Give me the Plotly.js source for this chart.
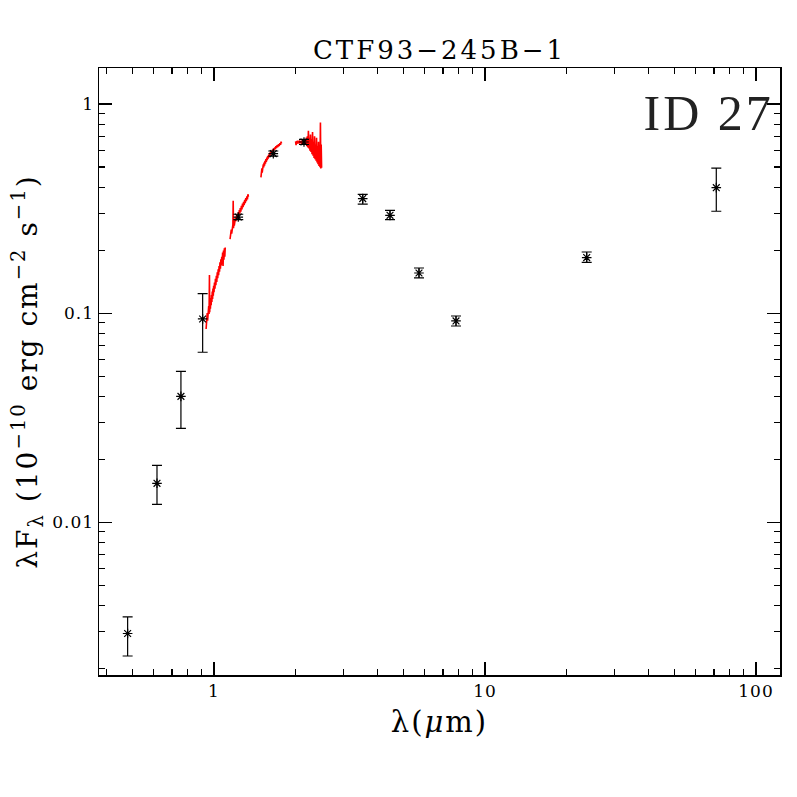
<!DOCTYPE html>
<html>
<head>
<meta charset="utf-8">
<script src="https://cdn.plot.ly/plotly-3.0.1.min.js"></script>
<style>
html,body{margin:0;padding:0;background:#fff;}
#plot{width:797px;height:797px;}
#plot .gtitle{letter-spacing:3px;}
#plot .xtitle{letter-spacing:2px;}
#plot .ytitle{letter-spacing:2px;}
#plot .xtick text,#plot .ytick text{letter-spacing:1px;}
#plot .annotation-text{letter-spacing:3px;}
</style>
</head>
<body>
<div id="plot"></div>
<script>
// Photometry (wavelength in micron, lambda*F_lambda in 1e-10 erg cm^-2 s^-1)
const photWave  = [0.480, 0.616, 0.755, 0.908, 1.229, 1.655, 2.148, 3.538, 4.461, 5.707, 7.816, 23.73, 71.37];
const photFlux  = [0.00294, 0.01536, 0.0400, 0.0938, 0.288, 0.579, 0.658, 0.353, 0.2935, 0.1556, 0.0918, 0.1843, 0.398];
const photUpper = [0.00353, 0.01873, 0.0527, 0.124, 0.297, 0.596, 0.677, 0.370, 0.310, 0.1644, 0.0969, 0.196, 0.494];
const photLower = [0.002295, 0.01219, 0.0281, 0.065, 0.280, 0.563, 0.640, 0.332, 0.280, 0.1473, 0.0868, 0.175, 0.307];

// Near-IR spectrum segments (null separates segments)
const specWave = [
  0.935,0.938,0.941,0.944,0.947,0.950,0.953,0.956,0.959,0.962,0.964,0.967,0.970,0.973,0.976,0.979,0.982,0.985,0.988,0.991,0.994,0.997,1.000,1.004,1.008,1.012,1.016,1.020,1.024,1.028,1.032,1.036,1.040,1.044,1.048,1.052,1.056,1.060,1.064,1.068,1.072,1.076,1.080,1.084,1.088,1.092,1.096,1.100,
  null,
  1.146,1.150,1.154,1.158,1.162,1.166,1.170,1.174,1.177,1.180,1.184,1.188,1.192,1.196,1.200,1.205,1.210,1.215,1.220,1.225,1.230,1.235,1.240,1.245,1.250,1.256,1.262,1.268,1.274,1.280,1.286,1.292,1.298,1.304,1.310,1.316,1.322,1.328,1.334,1.340,
  null,
  1.490,1.494,1.498,1.502,1.506,1.510,1.515,1.520,1.525,1.530,1.536,1.542,1.548,1.554,1.560,1.566,1.572,1.578,1.584,1.590,1.596,1.602,1.608,1.614,1.620,1.628,1.636,1.644,1.652,1.660,1.668,1.676,1.684,1.692,1.700,1.710,1.720,1.730,1.740,1.750,1.760,1.768,1.775,
  null,
  2.000,2.008,2.016,2.024,2.032,2.040,2.050,2.060,2.070,2.080,2.090,2.100,2.110,2.120,2.130,2.140,2.150,2.160,2.170,2.180,2.190,2.200,2.210,2.220,2.230,2.240,2.250,2.260,2.270,2.280,2.290,2.300,2.310,2.320,2.330,2.340,2.350,2.360,2.370,2.380,2.390,2.400,2.410,2.420,2.430,2.440,2.450,2.460,2.470,2.478,2.486,2.495
];
const specFlux = [
  0.084,0.095,0.089,0.100,0.092,0.104,0.096,0.108,0.099,0.152,0.101,0.112,0.105,0.118,0.109,0.122,0.113,0.127,0.117,0.131,0.121,0.135,0.126,0.140,0.131,0.146,0.136,0.151,0.141,0.157,0.147,0.162,0.152,0.168,0.158,0.175,0.163,0.181,0.169,0.186,0.174,0.195,0.168,0.199,0.180,0.204,0.186,0.206,
  null,
  0.226,0.242,0.233,0.251,0.240,0.258,0.247,0.265,0.345,0.255,0.272,0.262,0.279,0.268,0.286,0.275,0.292,0.281,0.298,0.287,0.304,0.293,0.311,0.299,0.318,0.306,0.326,0.313,0.334,0.321,0.341,0.328,0.348,0.336,0.355,0.343,0.362,0.350,0.370,0.360,
  null,
  0.446,0.475,0.458,0.492,0.470,0.505,0.485,0.515,0.497,0.525,0.507,0.535,0.518,0.545,0.528,0.555,0.538,0.563,0.547,0.572,0.556,0.580,0.565,0.588,0.574,0.596,0.583,0.605,0.592,0.613,0.600,0.620,0.608,0.628,0.615,0.635,0.622,0.642,0.630,0.650,0.638,0.660,0.648,
  null,
  0.662,0.636,0.664,0.645,0.668,0.650,0.666,0.647,0.670,0.652,0.664,0.645,0.668,0.650,0.672,0.648,0.666,0.642,0.675,0.640,0.690,0.628,0.700,0.620,0.745,0.612,0.690,0.598,0.715,0.590,0.680,0.575,0.735,0.565,0.660,0.552,0.700,0.545,0.640,0.535,0.690,0.525,0.630,0.515,0.660,0.505,0.600,0.498,0.815,0.492,0.640,0.495
];

const xTickVals = [1, 10, 100];
const xTickText = ['1', '10', '100'];
const yTickVals = [0.01, 0.1, 1];
const yTickText = ['0.01', '0.1', '1'];

const titleText = 'CTF93\u2212245B\u22121';
const idText = 'ID 27';

const serif = 'DejaVu Serif, Liberation Serif, serif';

const traces = [
  {
    x: specWave, y: specFlux, type: 'scatter', mode: 'lines',
    line: {color: '#ff0000', width: 1.6}, connectgaps: false, hoverinfo: 'skip'
  },
  {
    x: photWave, y: photFlux, type: 'scatter', mode: 'markers',
    marker: {symbol: 'asterisk-open', size: 8, color: 'black', line: {color: 'black', width: 1.2}},
    error_y: {
      type: 'data', symmetric: false,
      array: photUpper.map((u, i) => u - photFlux[i]),
      arrayminus: photLower.map((l, i) => photFlux[i] - l),
      color: 'black', thickness: 1.2, width: 5
    }
  }
];

const axisCommon = {
  type: 'log', showgrid: false, zeroline: false,
  showline: true, linecolor: 'black', linewidth: 1.5, mirror: 'allticks',
  ticks: 'inside', ticklen: 13, tickwidth: 1.2, tickcolor: 'black',
  tickmode: 'array',
  tickfont: {family: serif, size: 17, color: 'black'},
  minor: {ticks: 'inside', ticklen: 6, tickwidth: 1.2, tickcolor: 'black', dtick: 'D1', showgrid: false}
};

const layout = {
  width: 797, height: 797,
  paper_bgcolor: 'white', plot_bgcolor: 'white',
  showlegend: false,
  margin: {l: 99, r: 17, t: 68, b: 122},
  title: {
    text: titleText, font: {family: serif, size: 26, color: 'black'},
    x: 0.5, xref: 'paper', y: 1 - 50/797, yref: 'container', yanchor: 'middle'
  },
  xaxis: Object.assign({}, axisCommon, {
    range: [-0.4244, 2.0886],
    tickvals: xTickVals, ticktext: xTickText,
    title: {text: '\u03bb(<i>\u03bc</i>m)', font: {family: serif, size: 29, color: 'black'}, standoff: 12}
  }),
  yaxis: Object.assign({}, axisCommon, {
    range: [-2.730, 0.172],
    tickvals: yTickVals, ticktext: yTickText,
    title: {text: '\u03bbF<sub>\u03bb</sub> (10<sup>\u221210</sup> erg cm<sup>\u22122</sup> s<sup>\u22121</sup>)', font: {family: serif, size: 28, color: 'black'}, standoff: 10}
  }),
  annotations: [{
    text: idText, xref: 'paper', yref: 'paper', x: 0.983, y: 0.975,
    xanchor: 'right', yanchor: 'top', showarrow: false,
    font: {family: 'Liberation Serif, serif', size: 50, color: '#222'}
  }]
};

Plotly.newPlot('plot', traces, layout, {staticPlot: true, displayModeBar: false});
</script>
</body>
</html>
